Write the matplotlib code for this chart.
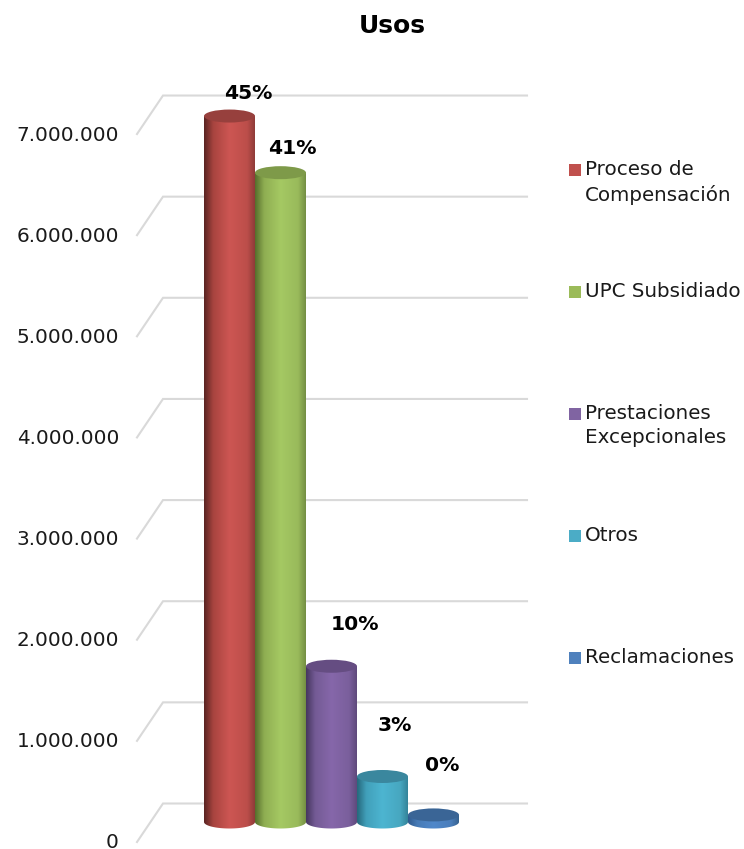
#!/usr/bin/python3

import numpy as np
import matplotlib
matplotlib.use("Agg")
import matplotlib.pyplot as plt
from matplotlib.colors import LinearSegmentedColormap
from matplotlib.patches import Ellipse, PathPatch, Rectangle
from matplotlib.path import Path
from matplotlib.transforms import ScaledTranslation

title = "Usos"
names = ["Proceso de\nCompensación", "UPC Subsidiado", "Prestaciones\nExcepcionales", "Otros", "Reclamaciones"]
values = [6980000, 6420000, 1540000, 450000, 70000]
percents = ["45%", "41%", "10%", "3%", "0%"]
ticks = [0, 1000000, 2000000, 3000000, 4000000, 5000000, 6000000, 7000000]
tick_labels = ["0", "1.000.000", "2.000.000", "3.000.000", "4.000.000", "5.000.000", "6.000.000", "7.000.000"]

swatch = ["#C0504D", "#9BBB59", "#8064A2", "#4BACC6", "#4F81BD"]
caps = ["#97403D", "#7E9A49", "#654D82", "#3A879E", "#3A6596"]
shades = [
    ["#5A2422", "#A8443F", "#CD5653", "#BC4E4A", "#8F3B39"],
    ["#566F2C", "#8FAE52", "#A5C963", "#99BA5B", "#748F43"],
    ["#46365F", "#745B95", "#8667AA", "#7A5F9C", "#5F4A7C"],
    ["#26697C", "#41A0BA", "#4DB5D1", "#47A7C0", "#34849A"],
    ["#2F5A8E", "#477BB6", "#5088CA", "#4A7DBA", "#36628F"],
]
stops = [0, 0.18, 0.5, 0.85, 1]

# label offsets from the top of each bar, in pixels
label_dx = [19, 12, 23, 12, 9]
label_dy = [23, 24, 42, 51, 49]

legend_y = [170, 292, 414, 536, 658]

W, H = 744, 849
fig = plt.figure(figsize=(W / 100, H / 100), dpi=100)
plt.rcParams["font.family"] = ["DejaVu Sans"]

# axes box in pixels
left, right, top, bottom = 137, 527, 88, 842
ax = fig.add_axes([left / W, 1 - bottom / H, (right - left) / W, (bottom - top) / H])

unit_y = 1000000 / 101.14  # value per pixel
unit_x = 1 / 51.0  # category per pixel
x0 = (left - 204) * unit_x
x1 = (right - 204) * unit_x
y1 = (bottom - top) * unit_y

depth_x = 26 * unit_x
depth_y = 38.5 * unit_y
base_y = 20 * unit_y
rim = 13 * unit_y

for t in ticks:
    ax.plot([x0, x0 + depth_x, x1], [t, t + depth_y, t + depth_y], color="#D9D9D9", lw=1.5, zorder=1,
            solid_joinstyle="miter", clip_on=False)

for i, v in enumerate(values):
    cmap = LinearSegmentedColormap.from_list("c%d" % i, list(zip(stops, shades[i])))
    grad = np.linspace(0, 1, 128).reshape(1, -1)
    im = ax.imshow(grad, cmap=cmap, extent=[i, i + 1, base_y - rim, base_y + v], aspect="auto",
                   interpolation="bilinear", zorder=2 + i)
    th = np.linspace(np.pi, 2 * np.pi, 40)
    xs = i + 0.5 + 0.5 * np.cos(th)
    ys = base_y + 0.5 * rim * np.sin(th)
    verts = list(zip(xs, ys)) + [(i + 1, base_y + v), (i, base_y + v), (xs[0], ys[0])]
    clip = PathPatch(Path(verts), transform=ax.transData, fc="none", ec="none")
    ax.add_patch(clip)
    im.set_clip_path(clip)
    ax.add_patch(Ellipse((i + 0.5, base_y + v), 1, rim, fc=caps[i], ec="none", zorder=2 + i))
    ax.annotate(percents[i], (i + 0.5, base_y + v), xytext=(label_dx[i] * 0.72, label_dy[i] * 0.72),
                textcoords="offset points", ha="center", va="center", fontsize=14.6, fontweight="bold",
                color="black", zorder=20)

ax.set_xlim(x0, x1)
ax.set_ylim(0, y1)
ax.set_xticks([])
ax.set_yticks(ticks)
ax.set_yticklabels(tick_labels, fontsize=14.4, color="#1A1A1A")
ax.tick_params(axis="y", length=0, pad=13)
# nudge the tick labels up so the 0 stays inside the picture
for lab in ax.get_yticklabels():
    lab.set_transform(lab.get_transform() + ScaledTranslation(0, 1 / 100, fig.dpi_scale_trans))
for s in ax.spines.values():
    s.set_visible(False)
ax.patch.set_alpha(0)

fig.text(392 / W, 1 - 26 / H, title, ha="center", va="center", fontsize=18, fontweight="bold", color="black")

for i, name in enumerate(names):
    fig.add_artist(Rectangle((568.5 / W, 1 - (legend_y[i] + 6) / H), 12 / W, 12 / H, fc=swatch[i], ec="none",
                             transform=fig.transFigure))
    fig.text(585 / W, 1 - (legend_y[i] - 10) / H, name, ha="left", va="top", fontsize=14.3, color="#1A1A1A",
             linespacing=1.35)

fig.savefig("out.png", dpi=100)
